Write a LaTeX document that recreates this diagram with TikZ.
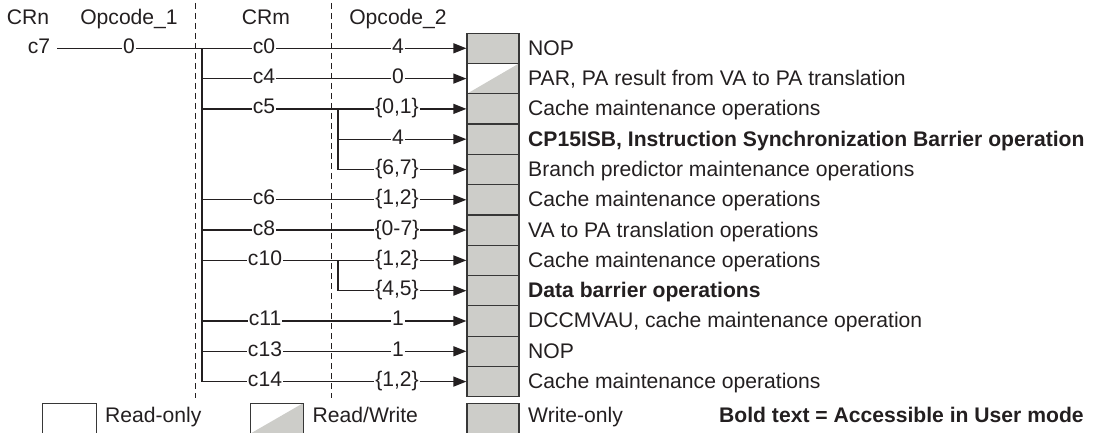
\documentclass[tikz,border=0pt]{standalone}
\usepackage{fontspec}
\setmainfont{Liberation Sans}
\usetikzlibrary{arrows.meta}
\definecolor{cellgray}{RGB}{205,205,201}
\definecolor{ink}{RGB}{35,31,32}
\definecolor{boxline}{RGB}{55,55,55}
\begin{document}
\begin{tikzpicture}[x=1bp,y=-1bp,font=\fontsize{21.2}{25}\selectfont,
  lab/.style={inner xsep=0.8bp,inner ysep=0pt,text height=10bp,text depth=0pt,anchor=center,text=ink},
  hdr/.style={anchor=base,inner sep=0pt,text=ink},
  txt/.style={anchor=base west,inner sep=0pt,text=ink},
  cell/.style={draw=boxline,line width=1.2bp,fill=cellgray,minimum width=52bp,minimum height=30.3bp,inner sep=0pt},
  rocell/.style={cell,fill=white},
  rwcell/.style={cell,fill=white,path picture={\fill[cellgray] (path picture bounding box.south west) -- (path picture bounding box.north east) -- (path picture bounding box.south east) -- cycle;}},
  wire/.style={draw=ink,line width=1.3bp},
  arr/.style={wire,-{Triangle[length=13bp,width=10bp]}},
  dashline/.style={draw=ink,line width=0.9bp,dash pattern=on 6bp off 4bp}]
\useasboundingbox (0,0) rectangle (1097,433);

% headers
\node[hdr] (hcrn) at (28,25) {CRn};
\node[hdr] (hop1) at (129,25) {Opcode\_1};
\node[hdr] (hcrm) at (266,25) {CRm};
\node[hdr] (hop2) at (398,25) {Opcode\_2};

% dashed separators
\coordinate (d1a) at (195,3); \coordinate (d1b) at (195,398);
\coordinate (d2a) at (331,3); \coordinate (d2b) at (331,398);
\draw[dashline] (d1a) -- (d1b);
\draw[dashline] (d2a) -- (d2b);

% register cells
\node[cell]   (b0)  at (493,48.3)  {};
\node[rwcell] (b1)  at (493,78.6)  {};
\node[cell]   (b2)  at (493,108.9) {};
\node[cell]   (b3)  at (493,139.2) {};
\node[cell]   (b4)  at (493,169.5) {};
\node[cell]   (b5)  at (493,199.8) {};
\node[cell]   (b6)  at (493,230.1) {};
\node[cell]   (b7)  at (493,260.4) {};
\node[cell]   (b8)  at (493,290.7) {};
\node[cell]   (b9)  at (493,321.0) {};
\node[cell]   (b10) at (493,351.3) {};
\node[cell]   (b11) at (493,381.6) {};

% descriptions
\node[txt] (t0)  at (528,55.3)  {NOP};
\node[txt] (t1)  at (528,85.6)  {PAR, PA result from VA to PA translation};
\node[txt] (t2)  at (528,115.9) {Cache maintenance operations};
\node[txt] (t3)  at (528,146.2) {\bfseries CP15ISB, Instruction Synchronization Barrier operation};
\node[txt] (t4)  at (528,176.5) {Branch predictor maintenance operations};
\node[txt] (t5)  at (528,206.8) {Cache maintenance operations};
\node[txt] (t6)  at (528,237.1) {VA to PA translation operations};
\node[txt] (t7)  at (528,267.4) {Cache maintenance operations};
\node[txt] (t8)  at (528,297.7) {\bfseries Data barrier operations};
\node[txt] (t9)  at (528,328.0) {DCCMVAU, cache maintenance operation};
\node[txt] (t10) at (528,358.3) {NOP};
\node[txt] (t11) at (528,388.6) {Cache maintenance operations};

% CRn / Opcode_1
\node[lab,inner xsep=7bp] (c7) at (39,48.3) {c7};
\node[lab] (o1) at (129,48.3) {0};

% CRm labels
\node[lab] (m0)  at (264,48.3)  {c0};
\node[lab] (m1)  at (264,78.6)  {c4};
\node[lab] (m2)  at (264,108.9) {c5};
\node[lab] (m5)  at (264,199.8) {c6};
\node[lab] (m6)  at (264,230.1) {c8};
\node[lab] (m7)  at (265,260.4) {c10};
\node[lab] (m9)  at (265,321.0) {c11};
\node[lab] (m10) at (265,351.3) {c13};
\node[lab] (m11) at (265,381.6) {c14};

% Opcode_2 labels
\node[lab] (p0)  at (398,48.3)  {4};
\node[lab] (p1)  at (398,78.6)  {0};
\node[lab] (p2)  at (397,108.9) {\{0,1\}};
\node[lab] (p3)  at (398,139.2) {4};
\node[lab] (p4)  at (397,169.5) {\{6,7\}};
\node[lab] (p5)  at (397,199.8) {\{1,2\}};
\node[lab] (p6)  at (397,230.1) {\{0-7\}};
\node[lab] (p7)  at (397,260.4) {\{1,2\}};
\node[lab] (p8)  at (397,290.7) {\{4,5\}};
\node[lab] (p9)  at (398,321.0) {1};
\node[lab] (p10) at (398,351.3) {1};
\node[lab] (p11) at (397,381.6) {\{1,2\}};

% trunk coordinates
\coordinate (k0)  at (202,48.3);
\coordinate (k1)  at (202,78.6);
\coordinate (k2)  at (202,108.9);
\coordinate (k5)  at (202,199.8);
\coordinate (k6)  at (202,230.1);
\coordinate (k7)  at (202,260.4);
\coordinate (k9)  at (202,321.0);
\coordinate (k10) at (202,351.3);
\coordinate (k11) at (202,381.6);
\coordinate (s2)  at (338,108.9);
\coordinate (s3)  at (338,139.2);
\coordinate (s4)  at (338,169.5);
\coordinate (s7)  at (338,260.4);
\coordinate (s8)  at (338,290.7);

% connectors
\draw[wire] (c7.east) -- (o1.west);
\draw[wire] (o1.east) -- (m0.west);
\draw[wire] (k0) -- (k11) -- (m11.west);
\draw[wire] (k1) -- (m1.west);
\draw[wire] (k2) -- (m2.west);
\draw[wire] (k5) -- (m5.west);
\draw[wire] (k6) -- (m6.west);
\draw[wire] (k7) -- (m7.west);
\draw[wire] (k9) -- (m9.west);
\draw[wire] (k10) -- (m10.west);
\foreach \i in {0,1,2,5,6,7,9,10,11}{\draw[wire] (m\i.east) -- (p\i.west);}
\draw[wire] (s2) -- (s4) -- (p4.west);
\draw[wire] (s3) -- (p3.west);
\draw[wire] (s7) -- (s8) -- (p8.west);
\foreach \i in {0,...,11}{\draw[arr] (p\i.east) -- (b\i.west);}

% legend
\node[rocell,minimum width=54bp] (lro) at (69.7,418.3) {};
\node[txt] (lrot) at (105,423) {Read-only};
\node[rwcell,minimum width=52.5bp] (lrw) at (276.9,418.3) {};
\node[txt] (lrwt) at (312.5,423) {Read/Write};
\node[cell] (lwo) at (493,418.3) {};
\node[txt] (lwot) at (528,423) {Write-only};
\node[txt] (lbold) at (719,423) {\bfseries Bold text = Accessible in User mode};
\end{tikzpicture}
\end{document}
